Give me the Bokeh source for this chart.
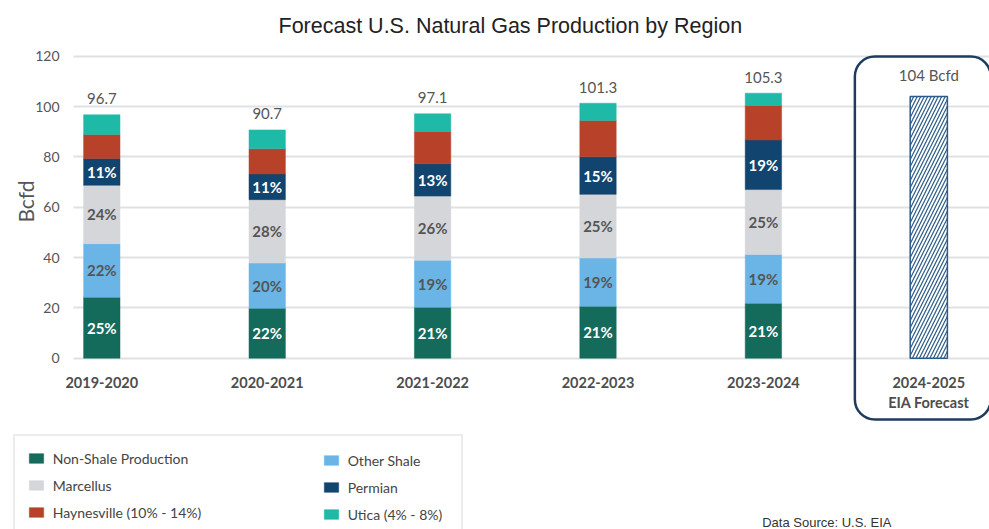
import math
import numpy as np
from bokeh.plotting import figure
from bokeh.models import (ColumnDataSource, Range1d, FixedTicker, Legend, LegendItem,
                          BoxAnnotation, Label, LinearAxis, Grid)
from bokeh.core.properties import value
from bokeh.embed import file_html
from bokeh.resources import INLINE

# ---------------- data ----------------
periods = ["2019-2020", "2020-2021", "2021-2022", "2022-2023", "2023-2024"]
forecast_period = "2024-2025"
forecast_note = "EIA Forecast"
forecast_value = 104
forecast_text = "104 Bcfd"

non_shale = [24.2, 19.8, 20.2, 20.6, 21.8]
other_shale = [21.3, 18.0, 18.7, 19.2, 19.4]
marcellus = [23.2, 25.2, 25.5, 25.3, 25.8]
permian = [10.6, 10.2, 12.9, 14.9, 19.7]
haynesville = [9.6, 10.0, 12.8, 14.4, 13.7]
utica = [7.8, 7.5, 7.0, 6.9, 4.9]
totals = [96.7, 90.7, 97.1, 101.3, 105.3]

ns_pct = ["25%", "22%", "21%", "21%", "21%"]
os_pct = ["22%", "20%", "19%", "19%", "19%"]
m_pct = ["24%", "28%", "26%", "25%", "25%"]
p_pct = ["11%", "11%", "13%", "15%", "19%"]

series_names = ["Non-Shale Production", "Other Shale", "Marcellus", "Permian",
                "Haynesville (10% - 14%)", "Utica (4% - 8%)"]
series_keys = ["non_shale", "other_shale", "marcellus", "permian", "haynesville", "utica"]
series_colors = ["#156b5b", "#6ab5e6", "#d5d6da", "#11446f", "#b8412a", "#1fb9a8"]

y_ticks = [0, 20, 40, 60, 80, 100, 120]

# ---------------- figure ----------------
FONT = "Lato"
xs = list(range(len(periods)))
fx = len(periods)
axis_x = -0.171  # where the value axis sits (left edge of the grid)

p = figure(width=989, height=529, output_backend="svg", toolbar_location=None,
           x_range=Range1d(-0.6125, 5.367), y_range=Range1d(-68.07, 122.26),
           min_border_left=0, min_border_right=0, min_border_top=50, min_border_bottom=0,
           x_axis_location=None, y_axis_location=None)
p.outline_line_color = None
p.background_fill_color = "white"
p.grid.visible = False

yaxis = LinearAxis(ticker=FixedTicker(ticks=y_ticks), fixed_location=axis_x)
yaxis.axis_line_color = None
yaxis.major_tick_line_color = None
yaxis.minor_tick_line_color = None
yaxis.major_label_standoff = 8
yaxis.major_label_text_font = FONT
yaxis.major_label_text_font_size = "14px"
yaxis.major_label_text_color = "#555555"
p.add_layout(yaxis, "left")

ygrid = Grid(dimension=1, ticker=FixedTicker(ticks=y_ticks), grid_line_color="#e0e1e5",
             grid_line_width=2, cross_bounds=(axis_x, 5.367))
p.add_layout(ygrid)

p.title.text = "Forecast U.S. Natural Gas Production by Region"
p.title.text_font = "Liberation Sans"
p.title.text_font_size = "21.5px"
p.title.text_font_style = "normal"
p.title.text_color = "#222222"
p.title.align = "left"
p.title.offset = 278
p.title.standoff = 21
p.title.vertical_align = "top"

src = ColumnDataSource(dict(x=xs, non_shale=non_shale, other_shale=other_shale,
                            marcellus=marcellus, permian=permian,
                            haynesville=haynesville, utica=utica))
renderers = p.vbar_stack(series_keys, x="x", width=0.22, source=src,
                         fill_color=series_colors, line_color=series_colors, line_width=0.5)

# forecast bar
p.vbar(x=[fx], top=[forecast_value], width=0.225, fill_color="white",
       line_color="#2b5b8a", line_width=1.5, hatch_pattern="/",
       hatch_color="#2b5b8a", hatch_scale=7, hatch_weight=1.2)

# percentage labels in segments
vals = np.array([non_shale, other_shale, marcellus, permian])
cum = np.cumsum(vals, axis=0)
mids = cum - vals / 2
pct_lists = [ns_pct, os_pct, m_pct, p_pct]
pct_colors = ["white", "#555555", "#555555", "white"]
for k in range(4):
    p.text(x=xs, y=list(mids[k]), text=pct_lists[k], text_align="center",
           text_baseline="middle", text_font=value(FONT), text_font_size="15px",
           text_font_style="bold", text_color=pct_colors[k])

# totals on top
p.text(x=xs, y=totals, text=[f"{t:.1f}" for t in totals], text_align="center",
       text_baseline="middle", y_offset=-16, text_font=value(FONT),
       text_font_size="15px", text_color="#555555")
p.text(x=[fx], y=[forecast_value], text=[forecast_text], text_align="center",
       text_baseline="middle", y_offset=-21, text_font=value(FONT),
       text_font_size="15px", text_color="#555555")

# category labels
cats = periods + [forecast_period]
p.text(x=list(range(len(cats))), y=[0] * len(cats), text=cats, text_align="center",
       text_baseline="middle", y_offset=24, text_font=value(FONT), text_font_size="14.5px",
       text_font_style="bold", text_color="#4d4d4d")
p.text(x=[fx], y=[0], text=[forecast_note], text_align="center",
       text_baseline="middle", y_offset=44, text_font=value(FONT), text_font_size="14.5px",
       text_font_style="bold", text_color="#4d4d4d")

# rounded box around forecast
box = BoxAnnotation(left=fx - 0.447, right=fx + 0.375, top=119.85, bottom=-24.36,
                    fill_alpha=0, line_color="#1f3c5e", line_alpha=1, line_width=2.5,
                    border_radius=20)
p.add_layout(box)

# y axis label
p.add_layout(Label(x=24.5, y=328, x_units="screen", y_units="screen", text="Bcfd",
                   angle=math.pi / 2, text_align="center", text_baseline="middle",
                   text_font=FONT, text_font_size="21px", text_color="#555555"))

# data source
p.add_layout(Label(x=761.7, y=7.3, x_units="screen", y_units="screen",
                   text="Data Source: U.S. EIA", text_font="Liberation Sans",
                   text_font_size="13px", text_baseline="middle", text_color="#333333"))

# legends
common = dict(glyph_width=18, glyph_height=12, label_standoff=8, spacing=7, padding=12,
              label_text_font=FONT, label_text_font_size="14px", label_text_color="#444444",
              label_height=20)
leg1 = Legend(items=[LegendItem(label=series_names[i], renderers=[renderers[i]]) for i in (0, 2, 4)],
              location=(12.7, -7), label_width=396, border_line_color="#d9d9d9",
              border_line_width=2, background_fill_color="white", background_fill_alpha=1,
              **common)
leg2 = Legend(items=[LegendItem(label=series_names[i], renderers=[renderers[i]]) for i in (1, 3, 5)],
              location=(309.7, -7), border_line_alpha=0, background_fill_alpha=0, **common)
p.add_layout(leg1)
p.add_layout(leg2)

open("out.html", "w").write(file_html(p, INLINE))
